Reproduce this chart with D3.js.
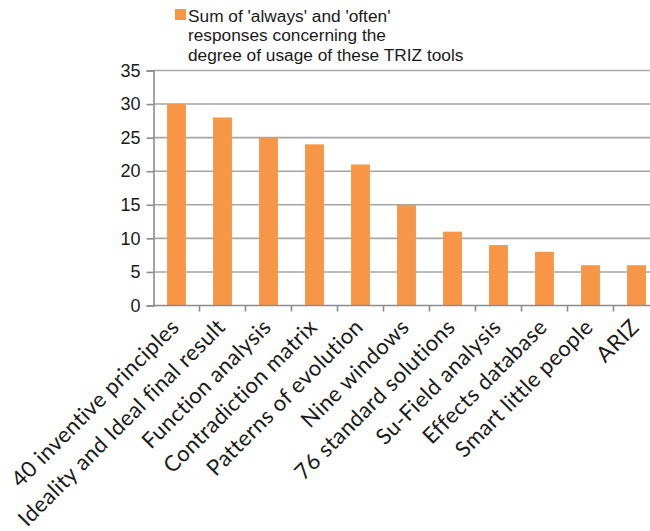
<!DOCTYPE html>
<html><head><meta charset="utf-8">
<script src="https://cdn.jsdelivr.net/npm/d3@7"></script>
<style>body{margin:0;background:#fff;}svg{display:block;}</style>
</head><body>
<svg id="chart" width="650" height="531"></svg>
<script>
const categories = ["40 inventive principles","Ideality and Ideal final result","Function analysis","Contradiction matrix","Patterns of evolution","Nine windows","76 standard solutions","Su-Field analysis","Effects database","Smart little people","ARIZ"];
const values = [30, 28, 25, 24, 21, 15, 11, 9, 8, 6, 6];
const yTicks = [0, 5, 10, 15, 20, 25, 30, 35];
const legendLines = ["Sum of 'always' and 'often'", "responses concerning the", "degree of usage of these TRIZ tools"];

(function () {
const svg = d3.select("#chart");
const mLeft = 153.5, mRight = 659.5, mTop = 70.5, mBottom = 305.5;
const x = d3.scaleBand().domain(categories).range([mLeft, mRight]).paddingInner(0.59).paddingOuter(0.295);
const xTick = d3.scaleBand().domain(categories).range([mLeft, mRight]);
const y = d3.scaleLinear().domain([0, 35]).range([mBottom, mTop]);

svg.append("g").selectAll("line").data(yTicks.filter(d => d > 0)).join("line")
  .attr("x1", mLeft).attr("x2", mRight).attr("y1", d => y(d)).attr("y2", d => y(d))
  .attr("stroke", "#a6a6a6").attr("stroke-width", 1.6);

svg.append("g").selectAll("rect").data(values).join("rect")
  .attr("x", (d, i) => x(categories[i])).attr("width", x.bandwidth())
  .attr("y", d => y(d)).attr("height", d => mBottom - y(d))
  .attr("fill", "#F79646");

const yAxis = d3.axisLeft(y).tickValues(yTicks).tickSize(7).tickPadding(6);
const gy = svg.append("g").attr("transform", `translate(${mLeft},0)`).call(yAxis);
gy.select(".domain").attr("stroke", "#8c8c8c").attr("stroke-width", 1.6);
gy.selectAll(".tick line").attr("stroke", "#8c8c8c").attr("stroke-width", 1.6);
gy.selectAll("text").attr("font-family", "Liberation Sans, Arial, sans-serif").attr("font-size", 18).attr("fill", "#1a1a1a");

const gx = svg.append("g").attr("transform", `translate(0,${mBottom})`);
gx.append("line").attr("x1", mLeft).attr("x2", mRight).attr("stroke", "#8c8c8c").attr("stroke-width", 1.6);
gx.selectAll("line.tk").data(categories).join("line").attr("class", "tk")
  .attr("x1", d => xTick(d) + xTick.bandwidth()).attr("x2", d => xTick(d) + xTick.bandwidth())
  .attr("y1", 0).attr("y2", 6).attr("stroke", "#8c8c8c").attr("stroke-width", 1.6);
gx.selectAll("text").data(categories).join("text")
  .attr("transform", d => `translate(${x(d) + x.bandwidth() / 2 + 4},${23}) rotate(-45)`)
  .attr("text-anchor", "end")
  .attr("font-family", "Lato, sans-serif").attr("font-size", 22).attr("letter-spacing", 0.4).attr("fill", "#1a1a1a")
  .text(d => d);

const lg = svg.append("g");
lg.append("rect").attr("x", 175).attr("y", 9).attr("width", 11).attr("height", 11).attr("fill", "#F79646");
lg.selectAll("text").data(legendLines).join("text")
  .attr("x", 188).attr("y", (d, i) => 21.5 + i * 19.6)
  .attr("font-family", "Liberation Sans, Arial, sans-serif").attr("font-size", 17.3).attr("fill", "#1a1a1a")
  .text(d => d);
})();
</script>
</body></html>
